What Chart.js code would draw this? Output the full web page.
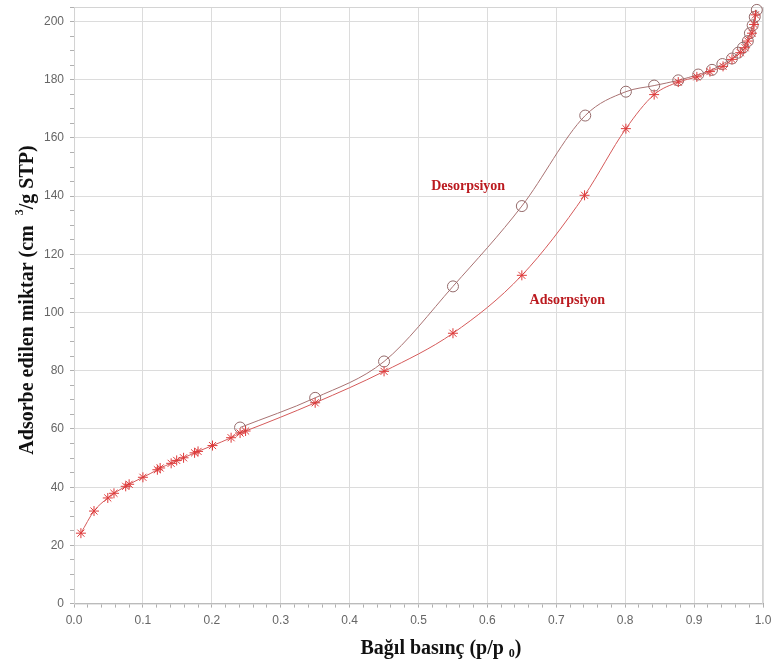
<!DOCTYPE html>
<html><head><meta charset="utf-8">
<script src="https://cdn.jsdelivr.net/npm/chart.js@4/dist/chart.umd.min.js"></script>
<style>html,body{margin:0;padding:0;background:#fff}#wrap{width:771px;height:663px;position:relative}</style>
</head><body><div id="wrap"><canvas id="c"></canvas></div>
<script>
// ---- data ----
const adsX = [0.010,0.029,0.049,0.058,0.075,0.080,0.100,0.121,0.125,0.141,0.149,0.159,0.175,0.180,0.201,0.228,0.241,0.249,0.350,0.450,0.550,0.650,0.741,0.801,0.842,0.877,0.904,0.923,0.942,0.955,0.967,0.974,0.978,0.984,0.987,0.989];
const adsY = [24.2,31.8,36.3,37.9,40.3,41.0,43.4,46.0,46.6,48.2,49.2,50.1,51.8,52.3,54.3,57.0,58.6,59.3,69.0,79.8,92.9,112.8,140.3,163.2,174.9,179.2,181.0,182.8,184.6,187.0,189.3,191.0,193.3,196.0,199.0,202.3];
const desX = [0.241,0.350,0.450,0.550,0.650,0.742,0.801,0.842,0.877,0.906,0.926,0.941,0.955,0.964,0.971,0.978,0.981,0.985,0.988,0.991];
const desY = [60.5,70.7,83.2,109.0,136.6,167.7,175.9,178.0,179.8,181.8,183.4,185.4,187.3,189.3,191.0,193.3,196.0,198.7,201.6,204.0];
const seriesNames = ['Adsorpsiyon','Desorpsiyon'];
const xTickLabels = ['0.0','0.1','0.2','0.3','0.4','0.5','0.6','0.7','0.8','0.9','1.0'];
const yTickLabels = ['0','20','40','60','80','100','120','140','160','180','200'];
const xTitleParts = ['Bağıl basınç (p/p ','0',')'];
const yTitleParts = ['Adsorbe edilen miktar (cm  ','3','/g STP)'];
// label anchor points in data units
const labelAnchors = {Desorpsiyon:[0.572,143.5], Adsorpsiyon:[0.716,104.3]};

const toPts = (xs, ys) => xs.map((x, i) => ({x, y: ys[i]}));

const extras = {
  id: 'extras',
  beforeDatasetsDraw(chart) {
    const {ctx, chartArea: a} = chart;
    ctx.save();
    ctx.strokeStyle = '#d4d4d4'; ctx.lineWidth = 1;
    ctx.strokeRect(a.left + 0.5, a.top + 0.5, a.right - a.left - 1, a.bottom - a.top);
    ctx.restore();
  },
  afterDraw(chart) {
    const {ctx} = chart;
    const xs = chart.scales.x, ys = chart.scales.y;
    ctx.save();
    // series labels
    ctx.fillStyle = '#bb1a1f';
    ctx.font = 'bold 14px "Liberation Serif", serif';
    ctx.textAlign = 'center'; ctx.textBaseline = 'middle';
    seriesNames.forEach(n => {
      const p = labelAnchors[n];
      ctx.fillText(n, xs.getPixelForValue(p[0]), ys.getPixelForValue(p[1]));
    });
    // titles with sub/superscript
    const drawParts = (parts, script) => {
      const big = 'bold 20px "Liberation Serif", serif';
      const small = 'bold 12px "Liberation Serif", serif';
      ctx.font = big; const w0 = ctx.measureText(parts[0]).width, w2 = ctx.measureText(parts[2]).width;
      ctx.font = small; const w1 = ctx.measureText(parts[1]).width;
      let x = -(w0 + w1 + w2) / 2;
      ctx.textAlign = 'left'; ctx.textBaseline = 'alphabetic';
      ctx.font = big; ctx.fillText(parts[0], x, 6); x += w0;
      ctx.font = small; ctx.fillText(parts[1], x, script === 'sub' ? 9 : -4); x += w1;
      ctx.font = big; ctx.fillText(parts[2], x, 6);
    };
    ctx.fillStyle = '#111';
    ctx.save(); ctx.translate(441, 648); drawParts(xTitleParts, 'sub'); ctx.restore();
    ctx.save(); ctx.translate(27, 300); ctx.rotate(-Math.PI / 2); drawParts(yTitleParts, 'sup'); ctx.restore();
    ctx.restore();
  }
};

new Chart(document.getElementById('c'), {
  type: 'scatter',
  data: {
    datasets: [
      {
        label: seriesNames[0], data: toPts(adsX, adsY), showLine: true,
        borderColor: '#d55a5a', borderWidth: 1, cubicInterpolationMode: 'monotone',
        pointStyle: 'star', pointRadius: 5, pointBorderColor: '#dd3a3a', pointBorderWidth: 1,
        pointBackgroundColor: '#dd3a3a', clip: false, order: 1
      },
      {
        label: seriesNames[1], data: toPts(desX, desY), showLine: true,
        borderColor: '#a97272', borderWidth: 1, cubicInterpolationMode: 'monotone',
        pointStyle: 'circle', pointRadius: 5.5, pointBorderColor: '#946a6a', pointBorderWidth: 1,
        pointBackgroundColor: 'rgba(255,255,255,0)', clip: false, order: 2
      }
    ]
  },
  options: {
    responsive: true, maintainAspectRatio: false, animation: false,
    layout: {padding: {left: 38, right: 8, top: 7, bottom: 29}},
    plugins: {legend: {display: false}, tooltip: {enabled: false}},
    scales: {
      x: {
        type: 'linear', min: 0, max: 1,
        afterFit: s => { s.paddingRight = 0; s.paddingLeft = 0; },
        border: {display: true, color: '#aaaaaa'},
        grid: {
          color: c => (Math.round(c.tick.value * 50) % 5 === 0 ? '#dcdcdc' : 'rgba(0,0,0,0)'),
          tickColor: '#b0b0b0', tickLength: 4, drawTicks: true
        },
        ticks: {
          stepSize: 0.02, maxTicksLimit: 100, autoSkip: false, maxRotation: 0, padding: 6,
          color: '#666', font: {family: '"Liberation Sans", Arial, sans-serif', size: 12},
          callback: v => { const i = Math.round(v * 10); return Math.abs(v * 10 - i) < 1e-6 ? xTickLabels[i] : ''; }
        }
      },
      y: {
        type: 'linear', min: 0, max: 205,
        afterFit: s => { s.paddingTop = 0; s.paddingBottom = 0; },
        border: {display: true, color: '#aaaaaa'},
        grid: {
          color: c => (Math.round(c.tick.value) % 20 === 0 && c.tick.value < 201 ? '#dcdcdc' : 'rgba(0,0,0,0)'),
          tickColor: '#b0b0b0', tickLength: 4, drawTicks: true
        },
        ticks: {
          stepSize: 5, maxTicksLimit: 100, autoSkip: false, padding: 6,
          color: '#666', font: {family: '"Liberation Sans", Arial, sans-serif', size: 12},
          callback: v => (Math.round(v) % 20 === 0 && v <= 200 ? yTickLabels[Math.round(v) / 20] : '')
        }
      }
    }
  },
  plugins: [extras]
});
</script></body></html>
